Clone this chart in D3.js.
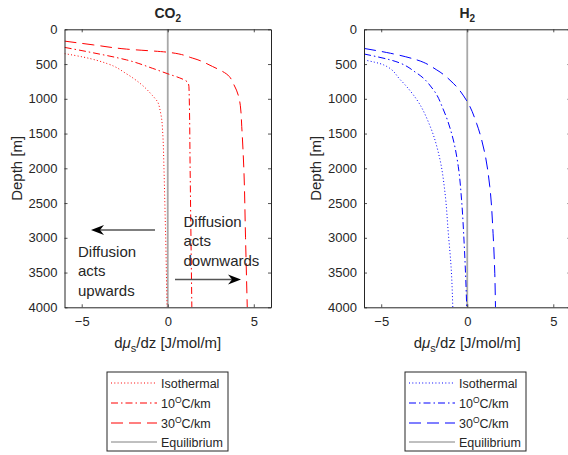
<!DOCTYPE html>
<html>
<head>
<meta charset="utf-8">
<script src="https://cdn.jsdelivr.net/npm/d3@7/dist/d3.min.js"></script>
<style>
  html, body { margin: 0; padding: 0; background: #fff; }
  svg { display: block; }
  text { font-family: "Liberation Sans", Arial, Helvetica, sans-serif; fill: #262626; }
</style>
</head>
<body>
<svg id="chart" width="568" height="455"></svg>
<script>
// ---------------- DATA ----------------
const depthTicks = [0, 500, 1000, 1500, 2000, 2500, 3000, 3500, 4000];
const xTicks = [-5, 0, 5];
const xDomain = [-6, 6];
const depthDomain = [0, 4000];

// [value (J/mol/m), depth (m)]
const co2Isothermal = [[-6, 350], [-4.9, 400], [-3.5, 495], [-2.4, 640], [-1.5, 800], [-0.9, 950], [-0.6, 1040],
  [-0.45, 1160], [-0.35, 1300], [-0.29, 1500], [-0.22, 2000], [-0.17, 2500], [-0.12, 3000], [-0.08, 3500], [-0.04, 4000]];
const co2Grad10 = [[-6, 260], [-4.3, 340], [-2.4, 440], [-0.9, 560], [0, 640], [0.7, 700], [1.05, 740], [1.18, 770],
  [1.23, 820], [1.25, 1000], [1.3, 2000], [1.35, 3000], [1.4, 4000]];
const co2Grad30 = [[-6, 170], [-4.3, 225], [-2.4, 285], [0, 330], [1.45, 415], [2.6, 535], [3.4, 640], [3.85, 800],
  [4.1, 950], [4.22, 1100], [4.3, 1400], [4.42, 2000], [4.52, 3000], [4.62, 4000]];

const h2Isothermal = [[-6, 440], [-4.85, 513], [-3.88, 729], [-2.92, 1017], [-2.15, 1400], [-1.58, 1880], [-1.29, 2360],
  [-1.1, 2935], [-0.94, 3415], [-0.84, 4000]];
const h2Grad10 = [[-6, 355], [-4.46, 441], [-2.92, 633], [-1.96, 873], [-1.38, 1161], [-0.81, 1592], [-0.52, 1976],
  [-0.33, 2455], [-0.19, 3031], [-0.1, 3511], [-0.03, 4000]];
const h2Grad30 = [[-6, 275], [-4.46, 345], [-2.92, 441], [-1.77, 585], [-0.81, 777], [0, 1041], [0.54, 1352],
  [1.02, 1784], [1.31, 2264], [1.5, 2935], [1.6, 3511], [1.64, 4000]];

const equilibrium = [[0, 0], [0, 4000]];

const seriesNames = ["Isothermal", "10|C/km", "30|C/km", "Equilibrium"];

// ---------------- STYLES ----------------
const styles = [
  { dash: "1,2.3", width: 1 },
  { dash: "7,3,1.5,3", width: 1 },
  { dash: "12,6", width: 1 },
  { dash: null, width: 1.8 }
];
const axisColor = "#262626";
const eqColor = "#a8a8a8";

const svg = d3.select("#chart");

function drawPanel(cfg) {
  const x = d3.scaleLinear().domain(xDomain).range([cfg.left, cfg.right]);
  const y = d3.scaleLinear().domain(depthDomain).range([cfg.top, cfg.bottom]);
  const g = svg.append("g");

  const clipId = "clip" + cfg.id;
  svg.append("defs").append("clipPath").attr("id", clipId)
    .append("rect").attr("x", cfg.left).attr("y", cfg.top)
    .attr("width", cfg.right - cfg.left).attr("height", cfg.bottom - cfg.top);

  const line = d3.line().x(d => x(d[0])).y(d => y(d[1])).curve(d3.curveMonotoneY);
  const plot = g.append("g").attr("clip-path", `url(#${clipId})`);

  // equilibrium
  plot.append("path").datum(equilibrium).attr("d", d3.line().x(d => x(d[0])).y(d => y(d[1])))
    .attr("fill", "none").attr("stroke", eqColor).attr("stroke-width", styles[3].width);

  cfg.series.forEach((s, i) => {
    plot.append("path").datum(s).attr("d", line)
      .attr("fill", "none").attr("stroke", cfg.color)
      .attr("stroke-width", styles[i].width)
      .attr("stroke-dasharray", styles[i].dash);
  });

  // axes with inward ticks, box
  const tl = 3;
  const axL = d3.axisLeft(y).tickValues(depthTicks).tickSizeInner(-tl).tickSizeOuter(0).tickPadding(7)
    .tickFormat(d3.format("d"));
  const axB = d3.axisBottom(x).tickValues(xTicks).tickSizeInner(-tl).tickSizeOuter(0).tickPadding(9)
    .tickFormat(d3.format("d"));
  const axR = d3.axisRight(y).tickValues(depthTicks).tickSizeInner(-tl).tickSizeOuter(0).tickFormat("");
  const axT = d3.axisTop(x).tickValues(xTicks).tickSizeInner(-tl).tickSizeOuter(0).tickFormat("");

  const gl = g.append("g").attr("transform", `translate(${cfg.left},0)`).call(axL);
  const gb = g.append("g").attr("transform", `translate(0,${cfg.bottom})`).call(axB);
  const gr = g.append("g").attr("transform", `translate(${cfg.right},0)`).call(axR);
  const gt = g.append("g").attr("transform", `translate(0,${cfg.top})`).call(axT);
  [gl, gb, gr, gt].forEach(a => {
    a.select(".domain").attr("stroke", axisColor).attr("stroke-width", 1);
    a.selectAll(".tick line").attr("stroke", axisColor).attr("stroke-width", 0.8);
    a.selectAll("text").attr("fill", axisColor).style("font-size", "13px")
      .style("font-family", '"Liberation Sans", Arial, sans-serif');
  });

  const cx = x(0);
  // title
  const t = g.append("text").attr("x", cx).attr("y", 18.3).attr("text-anchor", "middle")
    .style("font-size", "14px").style("font-weight", "bold").attr("fill", "#000");
  t.append("tspan").text(cfg.titleMain);
  t.append("tspan").attr("dy", 3.5).style("font-size", "10px").text("2");

  // x label
  const xl = g.append("text").attr("x", cx).attr("y", 348).attr("text-anchor", "middle")
    .style("font-size", "15px");
  xl.append("tspan").text("d");
  xl.append("tspan").style("font-style", "italic").text("\u03bc");
  xl.append("tspan").attr("dy", 4).style("font-size", "11px").text("s");
  xl.append("tspan").attr("dy", -4).text("/dz [J/mol/m]");

  // y label
  g.append("text").attr("transform", `translate(${cfg.left - 43},${(cfg.top + cfg.bottom) / 2}) rotate(-90)`)
    .attr("text-anchor", "middle").style("font-size", "15px").text("Depth [m]");

  // legend
  const lg = g.append("g");
  lg.append("rect").attr("x", cfg.legX).attr("y", 372).attr("width", 121).attr("height", 79)
    .attr("fill", "#fff").attr("stroke", axisColor).attr("stroke-width", 1);
  const rows = [383, 403, 423, 442];
  seriesNames.forEach((nm, i) => {
    const yy = rows[i];
    lg.append("line").attr("x1", cfg.legX + 4).attr("x2", cfg.legX + 50).attr("y1", yy).attr("y2", yy)
      .attr("stroke", i === 3 ? "#808080" : cfg.color).attr("stroke-width", i === 3 ? 1 : 1.2)
      .attr("stroke-dasharray", styles[i].dash);
    const tx = lg.append("text").attr("x", cfg.legX + 54).attr("y", yy + 4.5).style("font-size", "12.5px");
    if (nm.includes("|")) {
      const [a, b] = nm.split("|");
      tx.append("tspan").text(a);
      tx.append("tspan").attr("dy", -5).style("font-size", "8.5px").text("O");
      tx.append("tspan").attr("dy", 5).text(b);
    } else {
      tx.text(nm);
    }
  });
  return { x, y };
}

drawPanel({ id: "a", left: 64.5, right: 271, top: 29.3, bottom: 307.3, color: "#ff0000",
  series: [co2Isothermal, co2Grad10, co2Grad30], titleMain: "CO", legX: 107 });
drawPanel({ id: "b", left: 364, right: 570.5, top: 29.3, bottom: 307.3, color: "#0000ff",
  series: [h2Isothermal, h2Grad10, h2Grad30], titleMain: "H", legX: 405 });

// annotations
function arrow(x1, y1, x2, y2) {
  const dir = Math.sign(x2 - x1);
  svg.append("line").attr("x1", x1).attr("y1", y1).attr("x2", x2 - dir * 6).attr("y2", y2)
    .attr("stroke", "#555").attr("stroke-width", 1.6);
  const hl = 13, hw = 5;
  const p = d3.path();
  p.moveTo(x2, y2);
  p.lineTo(x2 - dir * hl, y2 - hw);
  p.lineTo(x2 - dir * (hl - 4), y2);
  p.lineTo(x2 - dir * hl, y2 + hw);
  p.closePath();
  svg.append("path").attr("d", p.toString()).attr("fill", "#000");
}
arrow(155, 230, 91, 230);
arrow(175, 279.5, 241, 279.5);

const annoLeft = ["Diffusion", "acts", "upwards"];
const annoRight = ["Diffusion", "acts", "downwards"];
annoLeft.forEach((s, i) => svg.append("text").attr("x", 78).attr("y", 256.5 + i * 19.5)
  .style("font-size", "15px").text(s));
annoRight.forEach((s, i) => svg.append("text").attr("x", 183.5).attr("y", 226.5 + i * 19.5)
  .style("font-size", "15px").text(s));
</script>
</body>
</html>
